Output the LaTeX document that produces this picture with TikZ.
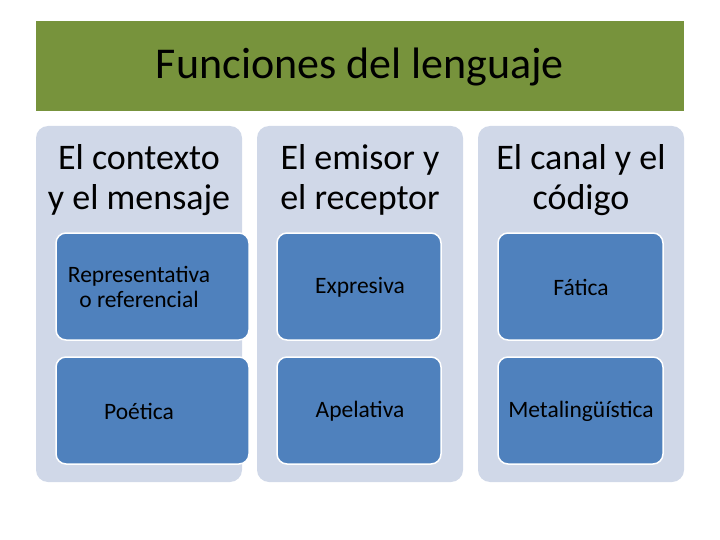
\documentclass[tikz,border=0pt]{standalone}
\usepackage{fontspec}
\setmainfont{Carlito}
\definecolor{olive}{RGB}{119,147,60}
\definecolor{colbg}{RGB}{208,216,232}
\definecolor{boxblue}{RGB}{79,129,189}
\tikzset{
 col/.style={fill=colbg,rounded corners=12pt,draw=none},
 inner/.style={fill=boxblue,draw=white,line width=1.5pt,rounded corners=10pt},
 head/.style={align=center,font=\fontsize{36}{40}\selectfont},
 lbl/.style={align=center,font=\fontsize{23.5}{25}\selectfont}
}
\begin{document}
\begin{tikzpicture}[x=1pt,y=-1pt]
\useasboundingbox (0,0) rectangle (720,540);
\fill[olive] (36,21) rectangle (684,111);
\node (title) at (360,67) {\fontsize{44}{48}\selectfont Funciones del lenguaje};
\foreach \n/\xa/\xb in {c1/36/242,c2/257/463,c3/478/684}{
 \fill[col] (\xa,126) rectangle (\xb,482);
}
\node[head] (h1) at (139,180) {El contexto\\y el mensaje};
\node[head] (h2) at (360,180) {El emisor y\\el receptor};
\node[head] (h3) at (581,180) {El canal y el\\código};
\draw[inner] (56,233) rectangle (249,340);
\node[lbl] (b11) at (139,287) {Representativa\\o referencial};
\draw[inner] (277,233) rectangle (441,340);
\node[lbl] (b21) at (360,287) {Expresiva};
\draw[inner] (498,233) rectangle (663,340);
\node[lbl] (b31) at (581,287) {Fática};
\draw[inner] (56,357) rectangle (249,464);
\node[lbl] (b12) at (139,411) {Poética};
\draw[inner] (277,357) rectangle (441,464);
\node[lbl] (b22) at (360,411) {Apelativa};
\draw[inner] (498,357) rectangle (663,464);
\node[lbl] (b32) at (581,411) {Metalingüística};
\end{tikzpicture}
\end{document}
